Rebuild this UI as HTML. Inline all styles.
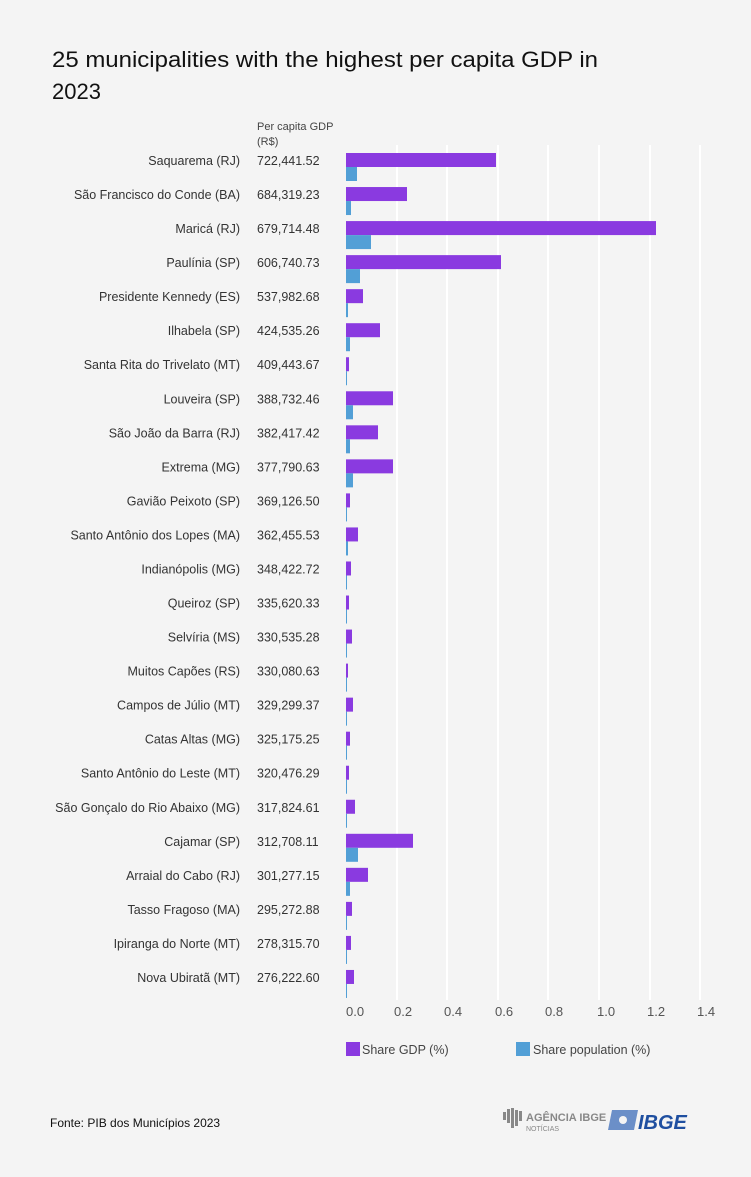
<!DOCTYPE html>
<html><head><meta charset="utf-8"><style>
html,body{margin:0;padding:0;background:#f4f4f4}
svg{display:block;font-family:"Liberation Sans",sans-serif}
</style></head><body>
<svg width="751" height="1177" viewBox="0 0 751 1177" xmlns="http://www.w3.org/2000/svg">
<rect width="751" height="1177" fill="#f4f4f4"/>
<text x="52" y="67" font-size="22" fill="#111" textLength="546" lengthAdjust="spacingAndGlyphs">25 municipalities with the highest per capita GDP in</text>
<text x="52" y="99" font-size="22" fill="#111">2023</text>
<text x="257" y="130" font-size="11" fill="#444">Per capita GDP</text>
<text x="257" y="145" font-size="11" fill="#444">(R$)</text>
<g stroke="#ffffff" stroke-width="2">
<line x1="397" y1="145" x2="397" y2="1000"/><line x1="447" y1="145" x2="447" y2="1000"/>
<line x1="498" y1="145" x2="498" y2="1000"/><line x1="548" y1="145" x2="548" y2="1000"/>
<line x1="599" y1="145" x2="599" y2="1000"/><line x1="650" y1="145" x2="650" y2="1000"/>
<line x1="700" y1="145" x2="700" y2="1000"/>
</g>
<g font-size="13" fill="#555">
<text x="346" y="1016">0.0</text><text x="394" y="1016">0.2</text><text x="444" y="1016">0.4</text><text x="495" y="1016">0.6</text><text x="545" y="1016">0.8</text><text x="597" y="1016">1.0</text><text x="647" y="1016">1.2</text><text x="697" y="1016">1.4</text>
</g>
<g id="rows" font-size="12.5" fill="#333"></g>
<rect x="346" y="1042" width="14" height="14" fill="#8a3ae0"/>
<text x="362" y="1054" font-size="12.5" fill="#444">Share GDP (%)</text>
<rect x="516" y="1042" width="14" height="14" fill="#529fd6"/>
<text x="533" y="1054" font-size="12.5" fill="#444">Share population (%)</text>
<text x="50" y="1127" font-size="12" fill="#111">Fonte:  PIB dos Municípios 2023</text>
<g fill="#888">
<rect x="503" y="1112" width="3" height="8"/><rect x="507" y="1109" width="3" height="14"/><rect x="511" y="1108" width="3" height="20"/><rect x="515" y="1110" width="3" height="16"/><rect x="519" y="1111" width="3" height="10"/>
<text x="526" y="1121" font-size="11" font-weight="bold">AGÊNCIA IBGE</text>
<text x="526" y="1131" font-size="7">NOTÍCIAS</text>
</g>
<polygon points="612,1110 638,1110 634,1130 608,1130" fill="#6b8fc8"/>
<circle cx="623" cy="1120" r="4" fill="#f4f4f4"/>
<text x="638" y="1129" font-size="20" font-weight="bold" font-style="italic" fill="#1f4fa0">IBGE</text>
</svg>
<script>
const d=[["Saquarema (RJ)","722,441.52",150,11],["São Francisco do Conde (BA)","684,319.23",61,5],["Maricá (RJ)","679,714.48",310,25],["Paulínia (SP)","606,740.73",155,14],["Presidente Kennedy (ES)","537,982.68",17,2],["Ilhabela (SP)","424,535.26",34,4],["Santa Rita do Trivelato (MT)","409,443.67",3,1],["Louveira (SP)","388,732.46",47,7],["São João da Barra (RJ)","382,417.42",32,4],["Extrema (MG)","377,790.63",47,7],["Gavião Peixoto (SP)","369,126.50",4,1],["Santo Antônio dos Lopes (MA)","362,455.53",12,2],["Indianópolis (MG)","348,422.72",5,1],["Queiroz (SP)","335,620.33",3,1],["Selvíria (MS)","330,535.28",6,1],["Muitos Capões (RS)","330,080.63",2,1],["Campos de Júlio (MT)","329,299.37",7,1],["Catas Altas (MG)","325,175.25",4,1],["Santo Antônio do Leste (MT)","320,476.29",3,1],["São Gonçalo do Rio Abaixo (MG)","317,824.61",9,1],["Cajamar (SP)","312,708.11",67,12],["Arraial do Cabo (RJ)","301,277.15",22,4],["Tasso Fragoso (MA)","295,272.88",6,1],["Ipiranga do Norte (MT)","278,315.70",5,1],["Nova Ubiratã (MT)","276,222.60",8,1]];
const g=document.getElementById('rows');let h='';
d.forEach((r,i)=>{const t=153+34.04*i;
h+=`<text x="240" y="${t+12}" text-anchor="end">${r[0]}</text><text x="257" y="${t+12}">${r[1]}</text>`;
h+=`<rect x="346" y="${t}" width="${r[2]}" height="14" fill="#8a3ae0"/><rect x="346" y="${t+14}" width="${r[3]}" height="14" fill="#529fd6"/>`;});
g.innerHTML=h;
</script>
</body></html>
